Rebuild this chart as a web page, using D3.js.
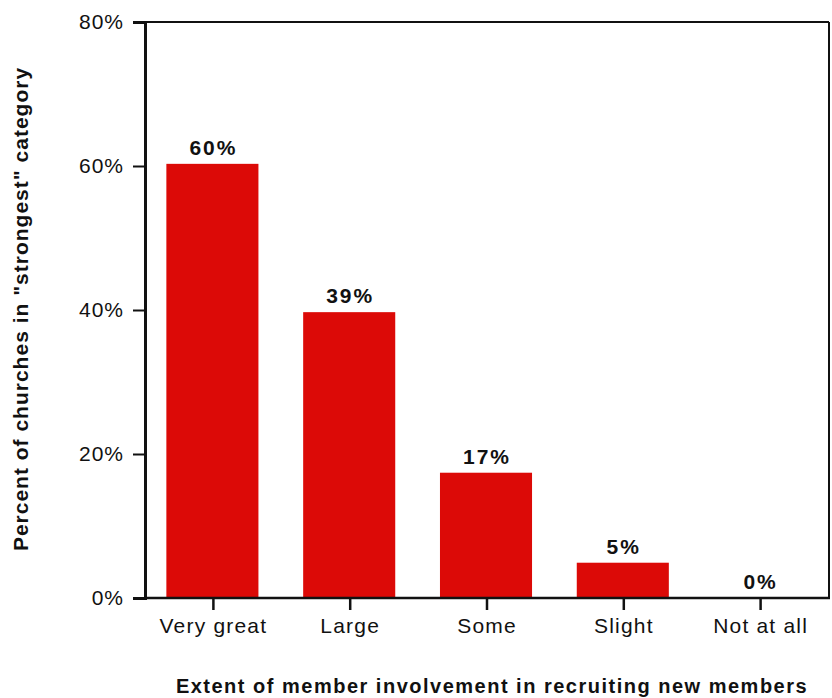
<!DOCTYPE html>
<html><head><meta charset="utf-8">
<script src="https://cdn.jsdelivr.net/npm/d3@7"></script>
<style>
body{margin:0;background:#fff;}
text{font-family:"Liberation Sans",Arial,Helvetica,sans-serif;fill:#111;}
</style></head>
<body>
<svg id="chart" width="832" height="698"></svg>
<script>
const categories = ["Very great","Large","Some","Slight","Not at all"];
const values = [60.3, 39.7, 17.4, 4.9, 0];
const valueLabels = ["60%","39%","17%","5%","0%"];
const yTicks = [0,20,40,60,80];
const yTickLabels = ["0%","20%","40%","60%","80%"];
const xTitle = "Extent of member involvement in recruiting new members";
const yTitle = 'Percent of churches in  "strongest"  category';

const svg = d3.select("#chart");
const mLeft = 145, mRight = 829, mTop = 22, mBottom = 598;

const x = d3.scaleBand().domain(categories).range([mLeft - 1, mRight - 1]).paddingInner(0.327).paddingOuter(0.1635);
const y = d3.scaleLinear().domain([0,80]).range([mBottom, mTop]);

// bars
svg.append("g").selectAll("rect").data(values).join("rect")
  .attr("x",(d,i)=>x(categories[i]))
  .attr("width",x.bandwidth())
  .attr("y",d=>y(d))
  .attr("height",d=>y(0)-y(d))
  .attr("fill","#dc0a07");

// value labels
svg.append("g").selectAll("text").data(values).join("text")
  .attr("x",(d,i)=>x(categories[i])+x.bandwidth()/2+1)
  .attr("y",d=>y(d)-9)
  .attr("text-anchor","middle")
  .attr("font-size",21)
  .attr("font-weight","bold")
  .attr("letter-spacing","2px")
  .text((d,i)=>valueLabels[i]);

// frame top & right
svg.append("line").attr("x1",mLeft).attr("x2",mRight).attr("y1",mTop).attr("y2",mTop).attr("stroke","#111").attr("stroke-width",2);
svg.append("line").attr("x1",mRight).attr("x2",mRight).attr("y1",mTop).attr("y2",mBottom).attr("stroke","#111").attr("stroke-width",2);

// y axis
const yAxis = d3.axisLeft(y).tickValues(yTicks).tickFormat((d,i)=>yTickLabels[i]).tickSize(12).tickPadding(9);
const gy = svg.append("g").attr("transform",`translate(${mLeft},0)`).call(yAxis);
gy.select(".domain").attr("stroke","#111").attr("stroke-width",3);
gy.selectAll(".tick line").attr("stroke","#111").attr("stroke-width",2);
gy.selectAll(".tick text").attr("font-size",21).attr("font-family","Liberation Sans, Arial, sans-serif").attr("fill","#111").attr("letter-spacing","1px");

// x axis
const xAxis = d3.axisBottom(x).tickSize(12).tickPadding(8);
const gx = svg.append("g").attr("transform",`translate(1,${mBottom})`).call(xAxis);
gx.select(".domain").attr("stroke","#111").attr("stroke-width",2.5).attr("d",`M${mLeft-2},0H${mRight}`);
gx.selectAll(".tick line").attr("stroke","#111").attr("stroke-width",2.5);
gx.selectAll(".tick text").attr("font-size",21).attr("font-family","Liberation Sans, Arial, sans-serif").attr("fill","#111").attr("letter-spacing","1.2px");

// axis titles
svg.append("text").attr("x",492).attr("y",693).attr("text-anchor","middle")
  .attr("font-size",20).attr("font-weight","bold").attr("letter-spacing","1.5px").text(xTitle);
svg.append("text").attr("transform","translate(28,309) rotate(-90)").attr("text-anchor","middle")
  .attr("font-size",21).attr("font-weight","bold").attr("letter-spacing","1px").text(yTitle);
</script>
</body></html>
